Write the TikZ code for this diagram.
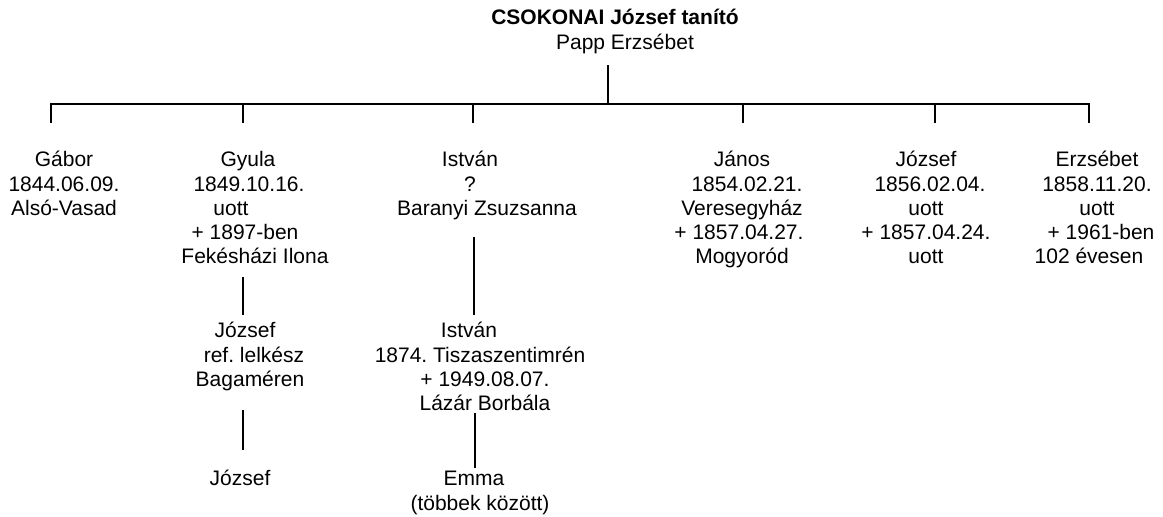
\documentclass[tikz,border=0pt]{standalone}
\usepackage{fontspec}
\setmainfont{Liberation Sans}
\frenchspacing
\newcommand\mv[2]{\setbox0\hbox{#2}\hbox to \wd0{\hskip#1pt\box0\hss}}
\begin{document}
\begin{tikzpicture}[x=1pt,y=-1pt,
  person/.style={inner sep=0pt, outer sep=0pt, align=center, anchor=north,
                 font=\fontsize{21}{24.2}\selectfont\frenchspacing},
  tree/.style={line width=1.7pt}]
\useasboundingbox (0,0) rectangle (1163,517);

% parents
\node[person] (parent) at (620,8) {\strut\mv{-5}{\textbf{CSOKONAI József tanító}}\\\mv{5}{Papp Erzsébet}};

% children
\node[person] (gabor) at (64,150) {\strut Gábor\\1844.06.09.\\Alsó-Vasad};
\node[person] (gyula) at (248,150) {\strut Gyula\\\mv{1}{1849.10.16.}\\\mv{-17}{uott}\\\mv{-3}{+ 1897-ben}\\\mv{7}{Fekésházi Ilona}};
\node[person] (istvan) at (470,150) {\strut István\\?\\\mv{17}{Baranyi Zsuzsanna}};
\node[person] (janos) at (742,150) {\strut János\\\mv{5}{1854.02.21.}\\Veresegyház\\\mv{-3}{+ 1857.04.27.}\\Mogyoród};
\node[person] (jozsef) at (926,150) {\strut József\\\mv{4}{1856.02.04.}\\uott\\+ 1857.04.24.\\uott};
\node[person] (erzsebet) at (1097,150) {\strut Erzsébet\\1858.11.20.\\uott\\\mv{4}{+ 1961-ben}\\\mv{-8}{102 évesen}};

% grandchildren
\node[person] (jozsefB) at (250,321) {\strut\mv{-5}{József}\\\mv{4}{ref. lelkész}\\Bagaméren};
\node[person] (istvanB) at (480,321) {\strut\mv{-11}{István}\\1874. Tiszaszentimrén\\\mv{5}{+ 1949.08.07.}\\\mv{5}{Lázár Borbála}};
\node[person] (jozsefC) at (240,469) {\strut József};
\node[person] (emma) at (480,469) {\strut\mv{-6}{Emma}\\(többek között)};

% connector coordinates
\coordinate (ptop) at (608,65);
\coordinate (bus) at (608,104);
\coordinate (bL) at (51,104);
\coordinate (bR) at (1089,104);
\coordinate (dGabor) at (51,123);
\coordinate (dGyula) at (243,123);
\coordinate (dIstvan) at (473,123);
\coordinate (dJanos) at (743,123);
\coordinate (dJozsef) at (935,123);
\coordinate (dErz) at (1089,123);
\coordinate (g1a) at (243,277);
\coordinate (g1b) at (243,315);
\coordinate (g2a) at (243,410);
\coordinate (g2b) at (243,450);
\coordinate (i1a) at (474,237);
\coordinate (i1b) at (474,315);
\coordinate (i2a) at (475,413);
\coordinate (i2b) at (475,468);

\draw[tree] (ptop) -- (bus);
\draw[tree] (dGabor) -- (bL) -- (bR) -- (dErz);
\draw[tree] (dGyula) -- (dGyula |- bus);
\draw[tree] (dIstvan) -- (dIstvan |- bus);
\draw[tree] (dJanos) -- (dJanos |- bus);
\draw[tree] (dJozsef) -- (dJozsef |- bus);
\draw[tree] (g1a) -- (g1b);
\draw[tree] (g2a) -- (g2b);
\draw[tree] (i1a) -- (i1b);
\draw[tree] (i2a) -- (i2b);
\end{tikzpicture}
\end{document}
